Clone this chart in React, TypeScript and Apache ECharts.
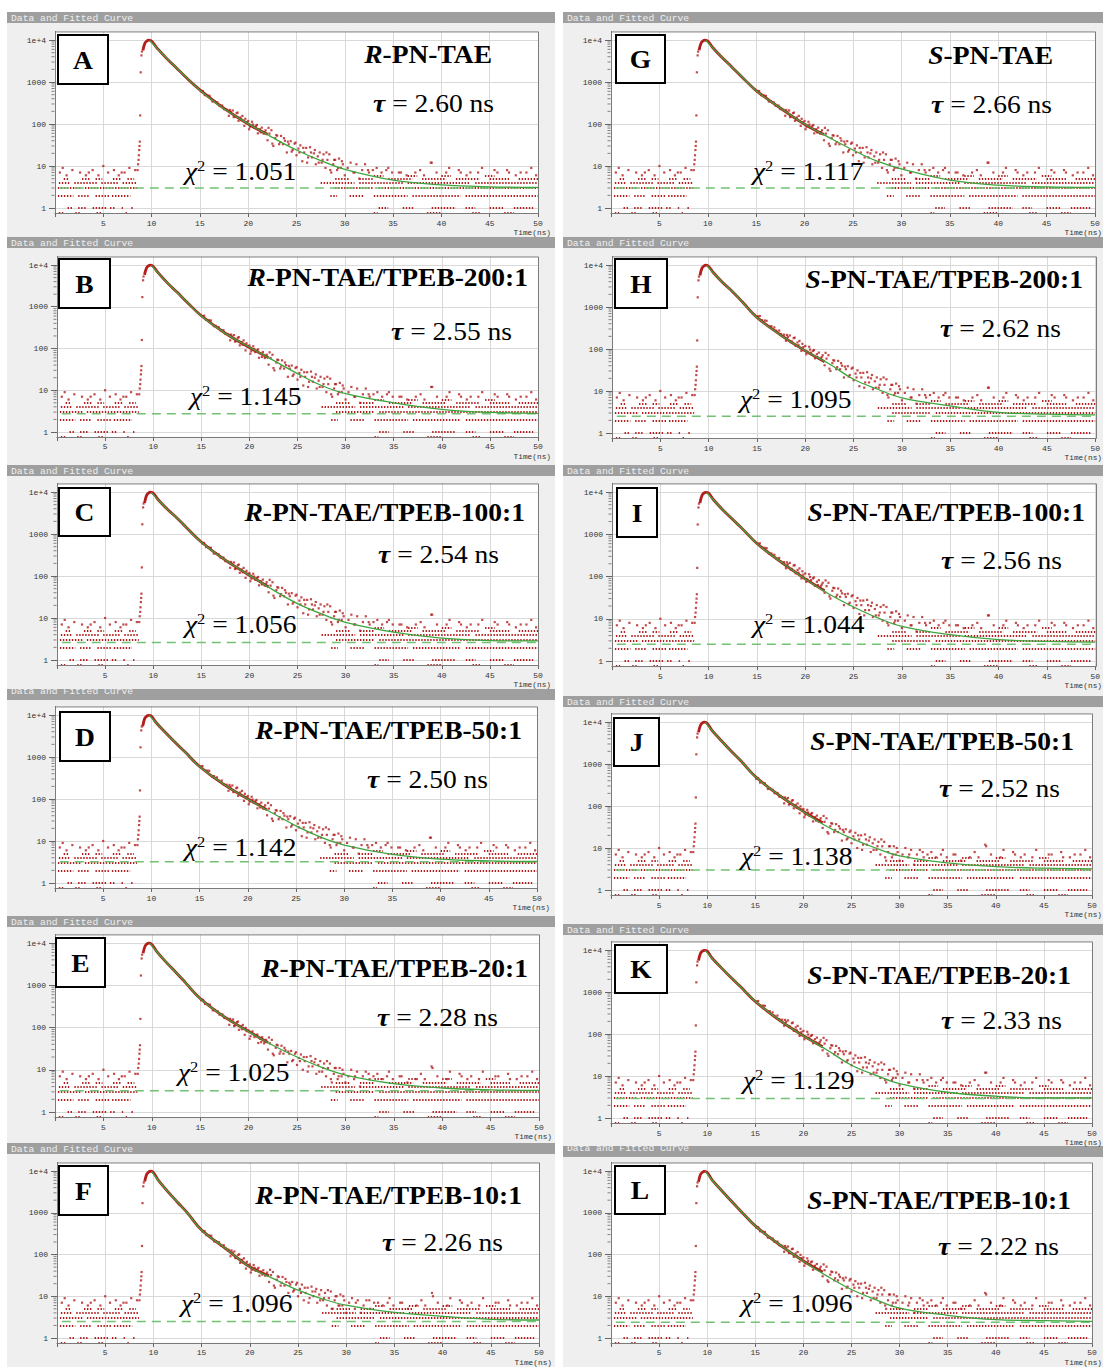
import { useEffect, useRef } from 'react';
import * as echarts from 'echarts';

// ---------- data ----------
// sample times of the fitted curves (ns)
const tFit = [9.8, 10.5, 11.5, 12.5, 13.5, 15, 17.5, 20, 22.5, 25, 27.5, 30, 35, 40, 45, 50];
const fitA = [9700, 6600, 3800, 2240, 1350, 640, 230, 102, 48, 24, 13.5, 8.3, 4.6, 3.55, 3.2, 3.1];
const fitB = [9800, 6500, 3700, 2200, 1320, 600, 230, 108, 52, 25, 13, 8.3, 5.0, 3.5, 2.95, 2.8];
const fitC = [9800, 6600, 3800, 2400, 1400, 640, 240, 105, 46, 22, 12.5, 7.9, 4.6, 3.3, 2.9, 2.85];
const fitD = [9800, 6500, 3700, 2200, 1300, 590, 225, 100, 47, 23, 12.5, 8.0, 4.8, 3.7, 3.35, 3.25];
const fitE = [9800, 6300, 3500, 2000, 1150, 480, 180, 80, 38, 20, 11.5, 7.5, 4.7, 3.7, 3.35, 3.25];
const fitF = [9800, 6000, 3200, 1800, 1000, 380, 140, 50, 26, 14, 8.7, 6.1, 4.1, 3.3, 2.8, 2.7];
const fitG = [9800, 6600, 3800, 2250, 1350, 620, 240, 100, 48, 24, 13, 8.5, 4.6, 3.5, 3.2, 3.1];
const fitH = [9800, 6500, 3700, 2300, 1300, 560, 210, 91, 44, 19, 11, 6.9, 4.4, 3.1, 2.8, 2.7];
const fitI = [9800, 6500, 3700, 2250, 1350, 600, 220, 87, 38, 19, 10.5, 6.6, 4.2, 3.2, 2.9, 2.8];
const fitJ = [9800, 6300, 3500, 2000, 1200, 500, 180, 73, 32, 17, 10, 6.5, 4.4, 3.6, 3.3, 3.2];
const fitK = [9800, 6400, 3700, 2200, 1300, 600, 215, 90, 41, 18, 10.5, 6.6, 4.1, 3.3, 3.0, 3.0];
const fitL = [9800, 6100, 3400, 1900, 1100, 480, 175, 69, 30, 14.5, 8.3, 5.2, 3.5, 2.75, 2.6, 2.5];

// dense measured counts around the peak and early decay
const tData = [9.1, 9.3, 9.5, 9.7, 9.9, 10.5, 11.5, 12.5, 13.5, 15, 17.5, 20, 22];
const dataA = [5600, 8300, 9400, 9900, 9750, 6700, 3750, 2260, 1330, 650, 235, 100, 57];
const dataB = [5800, 8400, 9500, 9900, 9700, 6550, 3680, 2210, 1300, 610, 232, 106, 60];
const dataC = [5500, 8200, 9400, 9900, 9750, 6650, 3820, 2380, 1390, 645, 238, 104, 55];
const dataD = [5400, 8200, 9300, 9850, 9700, 6550, 3720, 2190, 1310, 595, 222, 101, 55];
const dataE = [5700, 8400, 9500, 9900, 9700, 6350, 3480, 2010, 1140, 485, 178, 81, 44];
const dataF = [5600, 8300, 9400, 9850, 9650, 6050, 3220, 1790, 1010, 385, 138, 51, 31];
const dataG = [5700, 8400, 9500, 9900, 9750, 6650, 3780, 2260, 1340, 625, 238, 99, 56];
const dataH = [5600, 8300, 9400, 9900, 9700, 6550, 3720, 2290, 1310, 565, 212, 90, 50];
const dataI = [5500, 8200, 9400, 9850, 9700, 6550, 3690, 2240, 1340, 605, 218, 88, 46];
const dataJ = [5700, 8400, 9500, 9900, 9700, 6350, 3520, 2010, 1190, 505, 178, 74, 40];
const dataK = [5600, 8300, 9400, 9850, 9700, 6450, 3700, 2190, 1310, 595, 213, 91, 50];
const dataL = [5500, 8200, 9300, 9800, 9650, 6150, 3420, 1910, 1090, 485, 173, 70, 38];

// rising edge of the pulse [t, counts]
const risePoints = [[8.55, 8], [8.6, 11], [8.65, 14], [8.68, 18], [8.72, 24], [8.75, 30], [8.78, 38], [8.82, 160], [8.87, 1700], [8.95, 4300], [9.0, 5300]];

// noisy tail, slower decays [t, counts]
const tailSlow = [
  [15.1, 599], [15.3, 611], [15.5, 488], [15.8, 476], [16.0, 469], [16.3, 343], [16.5, 350], [16.8, 327], [17.0, 273], [17.3, 275],
  [17.5, 226], [17.8, 219], [18.0, 157], [18.2, 194], [18.4, 210], [18.6, 151], [18.8, 181], [19.0, 119], [19.2, 143], [19.4, 156],
  [19.6, 90], [19.8, 111], [20.0, 118], [20.2, 86], [20.4, 113], [20.6, 82], [20.8, 90], [21.0, 60], [21.2, 75], [21.4, 82],
  [21.6, 59], [21.8, 71], [22.0, 41], [22.2, 59], [22.4, 71], [22.6, 30], [22.8, 46], [23.0, 53], [23.2, 33], [23.4, 52],
  [23.6, 33], [23.8, 40], [24.0, 21], [24.2, 33], [24.4, 39], [24.6, 24], [24.8, 34], [25.0, 18], [25.2, 26], [25.4, 31],
  [25.6, 13], [25.8, 21], [26.0, 27], [26.2, 16], [26.4, 28], [26.6, 16], [26.8, 20], [27.0, 11], [27.2, 17], [27.4, 21],
  [27.6, 12], [27.8, 19], [28.0, 9], [28.2, 14], [28.4, 19], [28.6, 7], [28.8, 11], [29.0, 14], [29.2, 8], [29.4, 15],
  [29.6, 9], [29.8, 11], [30.0, 6], [30.3, 9], [30.6, 12], [30.9, 7], [31.2, 11], [31.5, 5], [31.8, 8], [32.1, 11],
  [32.5, 7], [32.9, 8], [33.3, 9], [33.8, 7], [34.3, 8], [34.9, 7], [35.6, 7], [36.4, 6], [37.3, 7], [38.2, 6],
  [39.0, 12], [40.5, 7], [42.0, 7], [43.8, 7], [45.5, 8], [47.0, 7], [48.8, 7],
  [18.1, 216], [18.5, 146], [18.9, 187], [19.3, 123], [19.7, 133], [20.1, 75], [20.5, 97], [20.9, 95], [21.3, 63], [21.7, 64],
  [22.1, 81], [22.5, 34], [22.9, 54], [23.3, 37], [23.7, 46], [24.1, 38], [24.5, 22], [24.9, 36], [25.3, 21], [25.7, 27],
  [26.1, 12], [26.5, 21], [26.9, 24], [27.3, 12], [27.7, 14], [28.1, 21], [28.5, 8], [28.9, 14], [29.3, 9], [29.7, 13],
];
// noisy tail, intermediate decays [t, counts]
const tailMid = [
  [15.1, 443], [15.3, 452], [15.5, 361], [15.8, 352], [16.0, 347], [16.3, 254], [16.5, 259], [16.8, 242], [17.0, 202], [17.3, 204],
  [17.5, 167], [17.8, 162], [18.0, 116], [18.2, 144], [18.4, 155], [18.6, 112], [18.8, 134], [19.0, 88], [19.2, 106], [19.4, 115],
  [19.6, 67], [19.8, 82], [20.0, 85], [20.2, 62], [20.4, 81], [20.6, 59], [20.8, 65], [21.0, 43], [21.2, 54], [21.4, 59],
  [21.6, 42], [21.8, 51], [22.0, 30], [22.2, 42], [22.4, 51], [22.6, 22], [22.8, 33], [23.0, 38], [23.2, 24], [23.4, 37],
  [23.6, 24], [23.8, 29], [24.0, 15], [24.2, 24], [24.4, 28], [24.6, 17], [24.8, 24], [25.0, 13], [25.2, 19], [25.4, 23],
  [25.6, 10], [25.8, 16], [26.0, 20], [26.2, 12], [26.4, 21], [26.6, 12], [26.8, 15], [27.0, 8], [27.2, 13], [27.4, 16],
  [27.6, 9], [27.8, 14], [28.0, 7], [28.2, 11], [28.4, 14], [28.6, 5], [28.8, 8], [29.0, 11], [29.2, 6], [29.4, 11],
  [29.6, 7], [29.8, 8], [30.0, 5], [30.3, 7], [30.6, 10], [30.9, 6], [31.2, 9], [31.5, 4], [31.8, 7], [32.1, 9],
  [32.5, 6], [32.9, 7], [33.3, 8], [33.8, 6], [34.3, 7], [34.9, 6], [35.6, 7], [36.4, 5], [37.3, 6], [38.2, 6],
  [39.0, 11], [40.5, 6], [42.0, 7], [43.8, 6], [45.5, 7], [47.0, 6], [48.8, 7],
  [18.1, 160], [18.5, 108], [18.9, 138], [19.3, 91], [19.7, 98], [20.1, 54], [20.5, 70], [20.9, 68], [21.3, 45], [21.7, 46],
  [22.1, 58], [22.5, 24], [22.9, 39], [23.3, 27], [23.7, 33], [24.1, 27], [24.5, 16], [24.9, 26], [25.3, 16], [25.7, 20],
  [26.1, 9], [26.5, 16], [26.9, 18], [27.3, 9], [27.7, 11], [28.1, 16], [28.5, 6], [28.9, 11], [29.3, 7], [29.7, 10],
];
// noisy tail, faster decays [t, counts]
const tailFast = [
  [15.1, 356], [15.3, 364], [15.5, 291], [15.8, 285], [16.0, 281], [16.3, 206], [16.5, 210], [16.8, 197], [17.0, 164], [17.3, 167],
  [17.5, 138], [17.8, 130], [18.0, 91], [18.2, 111], [18.4, 118], [18.6, 84], [18.8, 98], [19.0, 63], [19.2, 75], [19.4, 81],
  [19.6, 46], [19.8, 55], [20.0, 58], [20.2, 43], [20.4, 56], [20.6, 41], [20.8, 45], [21.0, 31], [21.2, 39], [21.4, 42],
  [21.6, 31], [21.8, 37], [22.0, 22], [22.2, 32], [22.4, 38], [22.6, 16], [22.8, 25], [23.0, 29], [23.2, 18], [23.4, 29],
  [23.6, 18], [23.8, 22], [24.0, 12], [24.2, 19], [24.4, 22], [24.6, 14], [24.8, 19], [25.0, 10], [25.2, 15], [25.4, 19],
  [25.6, 8], [25.8, 12], [26.0, 16], [26.2, 9], [26.4, 17], [26.6, 10], [26.8, 13], [27.0, 7], [27.2, 11], [27.4, 14],
  [27.6, 8], [27.8, 12], [28.0, 6], [28.2, 9], [28.4, 13], [28.6, 5], [28.8, 8], [29.0, 10], [29.2, 6], [29.4, 11],
  [29.6, 6], [29.8, 8], [30.0, 4], [30.3, 7], [30.6, 9], [30.9, 5], [31.2, 8], [31.5, 4], [31.8, 6], [32.1, 8],
  [32.5, 5], [32.9, 7], [33.3, 7], [33.8, 6], [34.3, 7], [34.9, 6], [35.6, 7], [36.4, 5], [37.3, 6], [38.2, 6],
  [39.0, 10], [40.5, 6], [42.0, 7], [43.8, 6], [45.5, 7], [47.0, 6], [48.8, 7],
  [18.1, 125], [18.5, 82], [18.9, 101], [19.3, 64], [19.7, 67], [20.1, 37], [20.5, 48], [20.9, 48], [21.3, 33], [21.7, 33],
  [22.1, 43], [22.5, 18], [22.9, 30], [23.3, 21], [23.7, 26], [24.1, 21], [24.5, 13], [24.9, 21], [25.3, 12], [25.7, 16],
  [26.1, 7], [26.5, 13], [26.9, 15], [27.3, 8], [27.7, 9], [28.1, 14], [28.5, 5], [28.9, 10], [29.3, 6], [29.7, 10],
];

// background runs of equal counts [counts, t start, t end]
const bgRuns = [
  [0.78, 0.4, 0.9], [0.78, 2.1, 2.6], [0.78, 4.3, 4.8], [0.78, 7.3, 7.6],
  [1, 1.3, 1.9], [1, 2.4, 3.3], [1, 3.9, 5.3], [1, 5.7, 6.2], [1, 6.9, 7.2], [1, 7.9, 8.2],
  [2, 0.3, 1.9], [2, 2.4, 3.6], [2, 4.2, 5.6], [2, 5.9, 7.8],
  [3, 0.3, 2.8], [3, 3.1, 5.4], [3, 5.6, 8.5],
  [4, 0.4, 1.5], [4, 2.0, 4.4], [4, 4.8, 6.5], [4, 7.0, 8.5],
  [5, 0.9, 1.5], [5, 2.8, 3.6], [5, 4.2, 4.9], [5, 6.0, 6.8], [5, 7.5, 8.2],
  [0.78, 33.0, 33.4], [0.78, 38.5, 40.0], [0.78, 43.2, 44.0], [0.78, 46.5, 47.5],
  [1, 33.5, 34.5], [1, 36.0, 37.2], [1, 39.0, 41.5], [1, 42.5, 43.5], [1, 45.0, 46.5], [1, 47.5, 49.5],
  [2, 28.5, 29.2], [2, 30.5, 32.0], [2, 33.0, 36.5], [2, 37.0, 42.0], [2, 42.5, 50.0],
  [3, 29.0, 33.0], [3, 33.5, 50.0],
  [4, 27.5, 31.0], [4, 31.5, 36.0], [4, 36.5, 43.0], [4, 43.5, 50.0],
  [5, 29.0, 30.5], [5, 31.5, 33.0], [5, 34.5, 37.0], [5, 38.0, 40.5], [5, 41.5, 44.0], [5, 45.0, 47.0], [5, 48.0, 50.0],
  [6, 33.0, 34.0], [6, 36.5, 37.5], [6, 40.0, 41.0], [6, 44.5, 45.5],
];
// isolated background counts [t, counts]
const bgDots = [
  [0.5, 7], [1.2, 6], [1.8, 8], [2.6, 7], [3.2, 6], [3.9, 8], [4.5, 6], [5.0, 10], [5.5, 7], [6.1, 8], [6.6, 6], [7.2, 7],
  [7.7, 9], [8.3, 8], [0.8, 9], [3.5, 7], [6.9, 7],
  [31.0, 7], [32.4, 8], [34.5, 9], [35.8, 7], [37.8, 8], [39.5, 7], [40.8, 9], [41.8, 8], [43.0, 7], [44.2, 9], [45.8, 7],
  [46.8, 8], [48.2, 7], [49.3, 9], [38.9, 12], [42.6, 6], [47.7, 6], [49.8, 6],
];

const baselines = [3.0, 2.75, 2.6, 3.2, 3.2, 2.5, 3.0, 2.5, 2.5, 3.0, 2.9, 2.4];
const letters = ['A', 'B', 'C', 'D', 'E', 'F', 'G', 'H', 'I', 'J', 'K', 'L'];
const chirality = ['R', 'R', 'R', 'R', 'R', 'R', 'S', 'S', 'S', 'S', 'S', 'S'];
const sampleNames = ['-PN-TAE', '-PN-TAE/TPEB-200:1', '-PN-TAE/TPEB-100:1', '-PN-TAE/TPEB-50:1', '-PN-TAE/TPEB-20:1', '-PN-TAE/TPEB-10:1',
  '-PN-TAE', '-PN-TAE/TPEB-200:1', '-PN-TAE/TPEB-100:1', '-PN-TAE/TPEB-50:1', '-PN-TAE/TPEB-20:1', '-PN-TAE/TPEB-10:1'];
const taus = ['2.60', '2.55', '2.54', '2.50', '2.28', '2.26', '2.66', '2.62', '2.56', '2.52', '2.33', '2.22'];
const chis = ['1.051', '1.145', '1.056', '1.142', '1.025', '1.096', '1.117', '1.095', '1.044', '1.138', '1.129', '1.096'];
const xTicks = [5, 10, 15, 20, 25, 30, 35, 40, 45, 50];
const yTicks = [1, 10, 100, 1000, 10000];
const minorMultipliers = [2, 3, 4, 5, 6, 7, 8, 9];

const fits = [fitA, fitB, fitC, fitD, fitE, fitF, fitG, fitH, fitI, fitJ, fitK, fitL];
const datas = [dataA, dataB, dataC, dataD, dataE, dataF, dataG, dataH, dataI, dataJ, dataK, dataL];
const tails = [tailSlow, tailSlow, tailSlow, tailSlow, tailMid, tailFast, tailSlow, tailSlow, tailSlow, tailMid, tailSlow, tailMid];

// ---------- layout (pixels) ----------
const PAGE_W = 1103;
const COLS = [{ x: 7, w: 548 }, { x: 563, w: 540 }];
const layout = [
  { col: 0, hdr: 12, next: 237, gx: 55, gw: 483, y4: 40, y0: 208, box: [58, 35, 50, 49], tR: 492, tY: 55, uR: 494, uY: 104, cL: 185, cY: 172, hdy: 0 },
  { col: 0, hdr: 237, next: 465, gx: 57, gw: 481, y4: 265, y0: 432, box: [59, 259, 51, 49], tR: 528, tY: 278, uR: 512, uY: 332, cL: 190, cY: 397, hdy: 0 },
  { col: 0, hdr: 465, next: 689, gx: 57, gw: 481, y4: 492, y0: 660, box: [59, 488, 51, 48], tR: 525, tY: 513, uR: 499, uY: 555, cL: 185, cY: 625, hdy: 0 },
  { col: 0, hdr: 689, next: 916, gx: 55, gw: 482, y4: 715, y0: 883, box: [60, 712, 50, 49], tR: 522, tY: 731, uR: 488, uY: 780, cL: 185, cY: 848, hdy: -4 },
  { col: 0, hdr: 916, next: 1143, gx: 55, gw: 484, y4: 943, y0: 1112, box: [56, 938, 49, 49], tR: 528, tY: 969, uR: 498, uY: 1018, cL: 178, cY: 1073, hdy: 0 },
  { col: 0, hdr: 1143, next: 1367, gx: 57, gw: 482, y4: 1171, y0: 1338, box: [59, 1166, 49, 49], tR: 522, tY: 1196, uR: 503, uY: 1243, cL: 181, cY: 1304, hdy: 0 },
  { col: 1, hdr: 12, next: 237, gx: 611, gw: 484, y4: 40, y0: 208, box: [616, 35, 49, 48], tR: 1053, tY: 56, uR: 1052, uY: 105, cL: 753, cY: 172, hdy: 0 },
  { col: 1, hdr: 237, next: 465, gx: 612, gw: 484, y4: 265, y0: 433, box: [615, 259, 52, 49], tR: 1083, tY: 280, uR: 1061, uY: 329, cL: 740, cY: 400, hdy: 0 },
  { col: 1, hdr: 465, next: 696, gx: 612, gw: 484, y4: 492, y0: 661, box: [617, 488, 40, 49], tR: 1085, tY: 513, uR: 1062, uY: 561, cL: 753, cY: 625, hdy: 0 },
  { col: 1, hdr: 696, next: 924, gx: 611, gw: 481, y4: 722, y0: 890, box: [614, 718, 45, 48], tR: 1074, tY: 742, uR: 1060, uY: 789, cL: 741, cY: 857, hdy: 0 },
  { col: 1, hdr: 924, next: 1146, gx: 611, gw: 481, y4: 950, y0: 1118, box: [615, 945, 52, 48], tR: 1071, tY: 976, uR: 1062, uY: 1021, cL: 743, cY: 1081, hdy: 0 },
  { col: 1, hdr: 1146, next: 1367, gx: 611, gw: 481, y4: 1171, y0: 1338, box: [615, 1166, 50, 48], tR: 1071, tY: 1201, uR: 1059, uY: 1247, cL: 741, cY: 1304, hdy: -4 },
];

const Y_MIN = 0.76;
const Y_MAX = 16000;
const RED = '#b31d1d';
const GREEN = '#3da53d';
const DASH_GREEN = '#72c272';
const MONO = '"Liberation Mono", "DejaVu Sans Mono", monospace';
const SERIF = '"Liberation Serif", "Times New Roman", serif';

const yFmt = (v: number) => {
  const e = Math.log10(v);
  const r = Math.round(e);
  if (Math.abs(e - r) > 0.02) return '';
  if (r === 4) return '1e+4';
  return String(Math.round(Math.pow(10, r)));
};

function buildOption() {
  const grid: any[] = [];
  const xAxis: any[] = [];
  const yAxis: any[] = [];
  const series: any[] = [];
  const g: any[] = [];
  const lo = Math.log10(Y_MIN);
  const hi = Math.log10(Y_MAX);
  const minorValues: number[] = [];
  [1, 10, 100, 1000].forEach((d) => minorMultipliers.forEach((m) => minorValues.push(d * m)));

  layout.forEach((L, i) => {
    const col = COLS[L.col];
    const p = (L.y0 - L.y4) / 4;
    const top = L.y4 - (hi - 4) * p;
    const height = (hi - lo) * p;

    // panel chrome
    g.push({ type: 'rect', z: -9, silent: true, shape: { x: col.x, y: L.hdr, width: col.w, height: 11 }, style: { fill: '#9f9f9f' } });
    g.push({ type: 'text', z: -8, silent: true, x: col.x + 4, y: L.hdr + 6 + L.hdy,
      style: { text: 'Data and Fitted Curve', fill: '#efefef', fontSize: 9.7, fontFamily: MONO, verticalAlign: 'middle', align: 'left' } });
    g.push({ type: 'rect', z: -7, silent: true, shape: { x: col.x, y: L.hdr + 11, width: col.w, height: L.next - L.hdr - 11 }, style: { fill: '#efefef' } });
    g.push({ type: 'rect', z: -6, silent: true, shape: { x: L.gx, y: top, width: L.gw, height }, style: { fill: '#ffffff' } });
    g.push({ type: 'rect', z: 10, silent: true, shape: { x: L.gx + 0.5, y: top + 0.5, width: L.gw, height }, style: { fill: 'none', stroke: '#7b7b7b', lineWidth: 1 } });
    g.push({ type: 'text', z: 10, silent: true, x: Math.min(L.gx + L.gw + 13, PAGE_W - 1), y: L.y0 + 25,
      style: { text: 'Time(ns)', fill: '#333', fontSize: 7.8, fontFamily: MONO, align: 'right', verticalAlign: 'middle' } });

    // letter box
    const [bx, by, bw, bh] = L.box;
    g.push({ type: 'rect', z: 20, silent: true, shape: { x: bx, y: by, width: bw, height: bh }, style: { fill: '#fff', stroke: '#000', lineWidth: 2 } });
    g.push({ type: 'text', z: 21, silent: true, x: bx + bw / 2, y: by + bh / 2 + 1, scaleX: 1.1,
      style: { text: letters[i], fill: '#000', fontSize: 25, fontWeight: 'bold', fontFamily: SERIF, align: 'center', verticalAlign: 'middle' } });

    // title
    g.push({ type: 'text', z: 21, silent: true, x: L.tR, y: L.tY, scaleX: 1.1,
      style: {
        text: `{i|${chirality[i]}}{b|${sampleNames[i]}}`, align: 'right', verticalAlign: 'middle',
        rich: {
          i: { fontSize: 25, fontWeight: 'bold', fontStyle: 'italic', fontFamily: SERIF, fill: '#000' },
          b: { fontSize: 25, fontWeight: 'bold', fontFamily: SERIF, fill: '#000' },
        },
      } });
    // tau
    g.push({ type: 'text', z: 21, silent: true, x: L.uR, y: L.uY, scaleX: 1.1,
      style: {
        text: `{t|τ}{n| = ${taus[i]} ns}`, align: 'right', verticalAlign: 'middle',
        rich: {
          t: { fontSize: 25, fontWeight: 'bold', fontStyle: 'italic', fontFamily: SERIF, fill: '#000' },
          n: { fontSize: 25, fontFamily: SERIF, fill: '#000' },
        },
      } });
    // chi square
    g.push({ type: 'text', z: 21, silent: true, x: L.cL, y: L.cY, scaleX: 1.1,
      style: {
        text: `{c|χ}{s|2}{n| = ${chis[i]}}`, align: 'left', verticalAlign: 'middle',
        rich: {
          c: { fontSize: 25, fontStyle: 'italic', fontFamily: SERIF, fill: '#000', lineHeight: 28 },
          s: { fontSize: 15, fontFamily: SERIF, fill: '#000', lineHeight: 16, verticalAlign: 'top' },
          n: { fontSize: 25, fontFamily: SERIF, fill: '#000', lineHeight: 28 },
        },
      } });

    grid.push({ left: L.gx, top, width: L.gw, height, show: false });
    xAxis.push({
      gridIndex: i, type: 'value', min: 0, max: 50, interval: 5,
      axisLine: { show: true, onZero: false, lineStyle: { color: '#666', width: 1 } },
      axisTick: { show: true, length: 4, lineStyle: { color: '#666' } },
      axisLabel: { show: true, fontSize: 8, fontFamily: MONO, color: '#333', margin: 6,
        formatter: (v: number) => (xTicks.includes(v) ? String(v) : '') },
      splitLine: { show: true, lineStyle: { color: '#d9d9d9', width: 1 } },
    });
    yAxis.push({
      gridIndex: i, type: 'log', logBase: 10, min: Y_MIN, max: Y_MAX,
      axisLine: { show: true, onZero: false, lineStyle: { color: '#666', width: 1 } },
      axisTick: { show: true, length: 6, lineStyle: { color: '#666' }, customValues: yTicks },
      axisLabel: { show: true, fontSize: 8, fontFamily: MONO, color: '#333', margin: 9, formatter: yFmt, customValues: yTicks },
      splitLine: { show: true, lineStyle: { color: '#d9d9d9', width: 1 } },
    });

    const common = { xAxisIndex: i, yAxisIndex: i, silent: true, animation: false };
    series.push({ ...common, type: 'lines', coordinateSystem: 'cartesian2d', polyline: false, z: 2, clip: false,
      lineStyle: { color: RED, width: 1.8, type: [1.4, 1.6], opacity: 1, curveness: 0 },
      data: bgRuns.map(([c, t0, t1]) => ({ coords: [[t0, c], [t1, c]] })) });
    series.push({ ...common, type: 'scatter', z: 2, symbol: 'rect', symbolSize: 2.2, itemStyle: { color: RED }, data: bgDots });
    series.push({ ...common, type: 'line', z: 3, symbol: 'none', lineStyle: { color: DASH_GREEN, width: 1.5, type: [9, 6] },
      data: [[0.5, baselines[i]], [50, baselines[i]]] });
    series.push({ ...common, type: 'scatter', z: 3, symbol: 'rect', symbolSize: 2.2, itemStyle: { color: RED }, data: tails[i] });
    series.push({ ...common, type: 'scatter', z: 3, symbol: 'rect', symbolSize: 2.2, itemStyle: { color: RED }, data: risePoints });
    series.push({ ...common, type: 'line', z: 4, symbol: 'none', smooth: 0.4, lineStyle: { color: RED, width: 2.8 },
      data: tData.map((t, k) => [t, datas[i][k]]) });
    series.push({ ...common, type: 'line', z: 5, symbol: 'none', smooth: 0.4, lineStyle: { color: GREEN, width: 1.3 },
      data: tFit.map((t, k) => [t, fits[i][k]]) });
    series.push({ ...common, type: 'scatter', z: 6, clip: false, symbol: 'rect', symbolSize: [3, 1], symbolOffset: [-2, 0],
      itemStyle: { color: '#666' }, data: minorValues.map((v) => [0, v]) });
  });

  return { animation: false, grid, xAxis, yAxis, series, graphic: g };
}

export default function App() {
  const ref = useRef<HTMLDivElement>(null);
  useEffect(() => {
    if (!ref.current) return;
    const chart = echarts.init(ref.current, null, { renderer: 'svg' });
    chart.setOption(buildOption() as any);
    return () => chart.dispose();
  }, []);
  return <div ref={ref} style={{ position: 'absolute', left: 0, top: 0, width: PAGE_W, height: 1367, background: '#fff' }} />;
}
